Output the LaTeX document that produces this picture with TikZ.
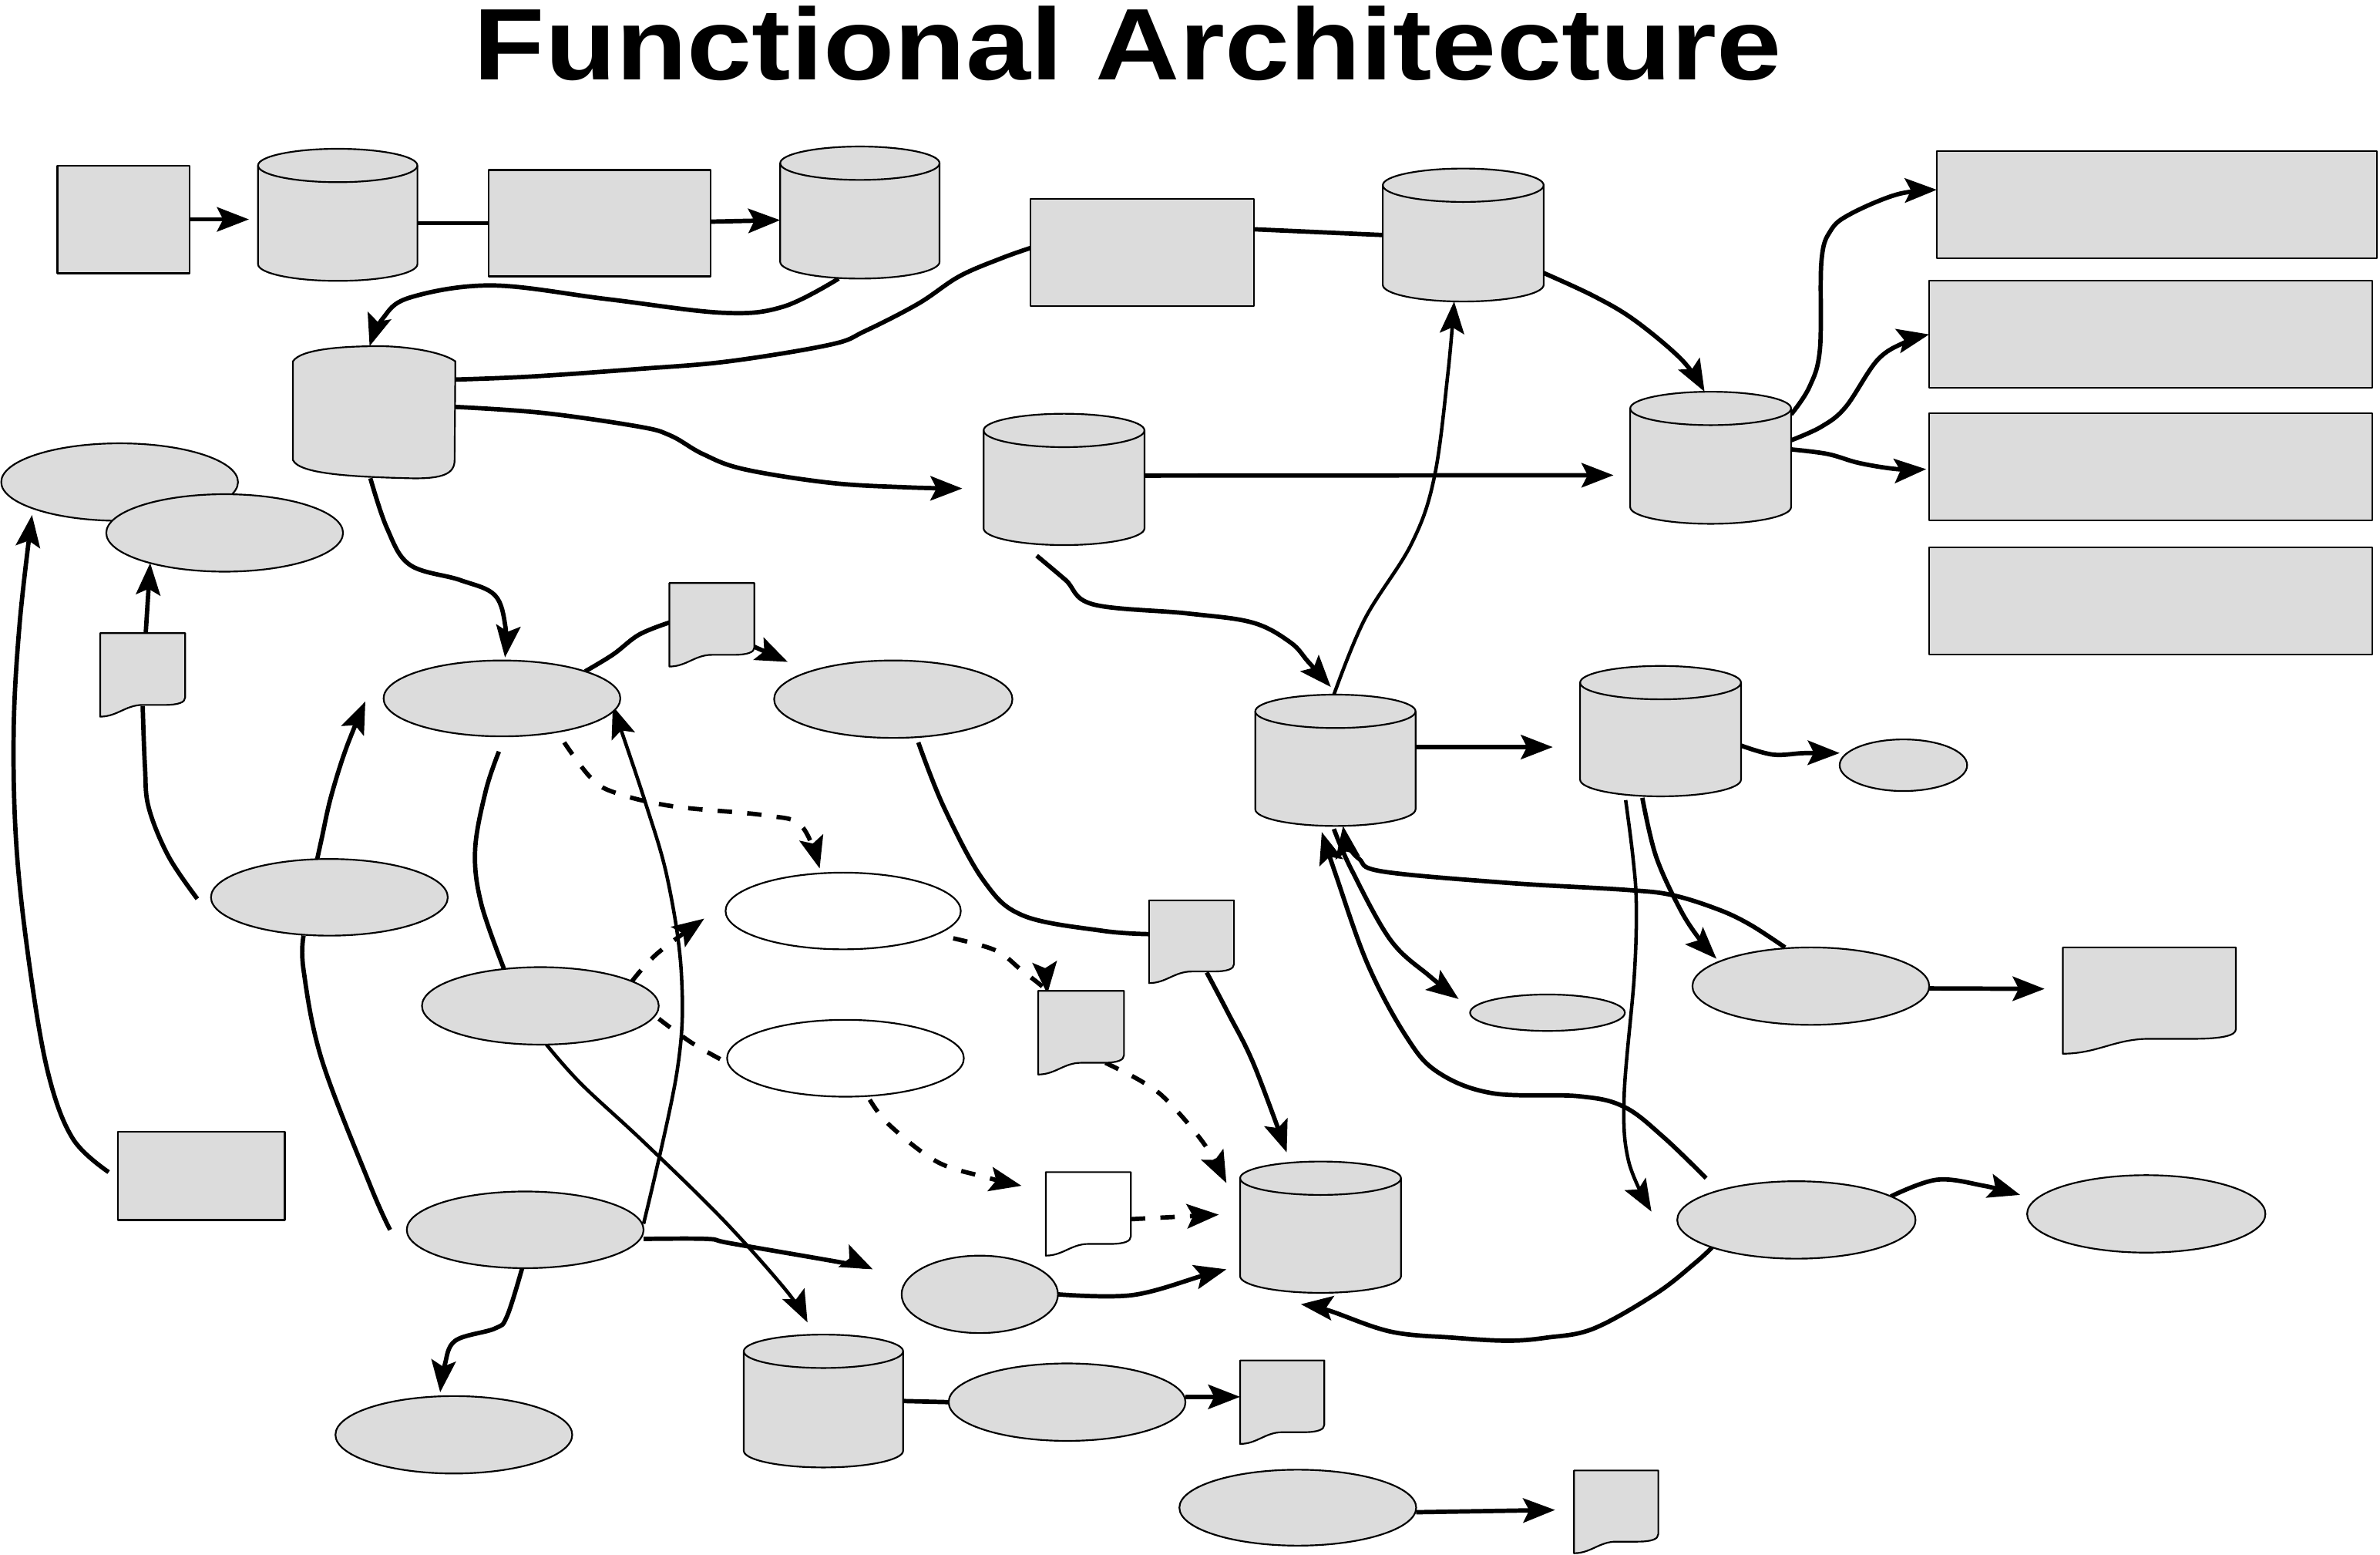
\documentclass[tikz,border=0pt]{standalone}
\usepackage{fontspec}
\setmainfont{Liberation Sans}
\usetikzlibrary{arrows.meta,shapes.geometric}
\definecolor{shapegray}{RGB}{220,220,220}
\pgfdeclarelayer{bg}
\pgfsetlayers{bg,main}
\tikzset{
  shp/.style={draw=black,line width=1.1pt,fill=shapegray,line join=round},
  hold/.style={rectangle,draw=none,fill=none,inner sep=0pt,outer sep=0pt},
  ell/.style={ellipse,shp,inner sep=0pt,outer sep=0pt},
  box/.style={rectangle,shp,inner sep=0pt,outer sep=0pt},
  con/.style={line width=2.9pt,line join=round},
  lite/.style={line width=2.3pt,line join=round},
  arrowed/.style={-{Stealth[length=21pt,width=16pt,inset=4pt]}},
  dsh/.style={dash pattern=on 9.5pt off 10pt},
}
% name, x0, ytop, x1, ybottom, ry
\newcommand\mkcyl[6]{%
  \node[hold, minimum width={(#4-#2)*1pt}, minimum height={(#5-#3)*1pt}] (#1) at ({(#2+#4)/2},{-(#3+#5)/2}) {};
  \draw[shp] (#2,{-#3-#6}) -- (#2,{-#5+#6}) arc[start angle=180,end angle=360,x radius={(#4-#2)*0.5pt},y radius={#6*1pt}] -- (#4,{-#3-#6}) arc[start angle=0,end angle=180,x radius={(#4-#2)*0.5pt},y radius={#6*1pt}] -- cycle;
  \draw[shp,fill=none] (#2,{-#3-#6}) arc[start angle=180,end angle=360,x radius={(#4-#2)*0.5pt},y radius={#6*1pt}];
}
% name, x0, ytop, x1, ybottomleft, fill
\newcommand\mkdoc[6]{%
  \node[hold, minimum width={(#4-#2)*1pt}, minimum height={(#5-#3)*1pt}] (#1) at ({(#2+#4)/2},{-(#3+#5)/2}) {};
  \draw[shp,fill=#6] (#2,-#5) .. controls ({#2+0.2*(#4-#2)},-#5) and ({#2+0.3*(#4-#2)},{-#5+0.14*(#5-#3)}) .. ({#2+0.5*(#4-#2)},{-#5+0.14*(#5-#3)}) -- ({#2+0.75*(#4-#2)},{-#5+0.14*(#5-#3)}) .. controls ({#2+0.92*(#4-#2)},{-#5+0.14*(#5-#3)}) and (#4,{-#5+0.17*(#5-#3)}) .. (#4,{-#5+0.23*(#5-#3)}) -- (#4,-#3) -- (#2,-#3) -- cycle;
}
\begin{document}
\begin{tikzpicture}[x=1pt,y=1pt]
\useasboundingbox (0,0) rectangle (1568,-1024);

% title
\node[anchor=base, inner sep=0pt, font=\fontsize{67}{80}\selectfont\bfseries] (title) at (743,-52.8) {\scalebox{1.146}[1]{Functional Architecture}};

% ---------- shapes ----------
\node[box,minimum width=87pt,minimum height=71pt] (R1) at (81.3,-144.5) {};
\mkcyl{C1}{170}{98}{275}{185}{11}
\node[box,minimum width=146pt,minimum height=70pt] (R2) at (395,-147) {};
\mkcyl{C2}{514}{96.5}{619}{183.5}{11}
\node[box,minimum width=147pt,minimum height=70.6pt] (R3) at (752.5,-166.3) {};
\mkcyl{C3}{911}{111}{1017}{198.6}{11}

\node[hold,minimum width=107pt,minimum height=87pt] (C4) at (246.5,-271.5) {};
\draw[shp] (193,-238) -- (193,-303) .. controls (197,-312) and (230,-314) .. (270,-315) .. controls (292,-315.5) and (299.5,-312) .. (299.5,-303) -- (300,-238) .. controls (290,-231) and (265,-228) .. (250,-228) .. controls (225,-228) and (198,-230) .. (193,-238) -- cycle;

\mkcyl{C5}{648}{272.5}{754}{359}{11}
\mkcyl{C6}{1074}{258}{1180}{345}{11}

\node[box,minimum width=290pt,minimum height=70.5pt] (RR1) at (1421,-134.75) {};
\node[box,minimum width=292pt,minimum height=70.5pt] (RR2) at (1417,-220.25) {};
\node[box,minimum width=292pt,minimum height=70.6pt] (RR3) at (1417,-307.3) {};
\node[box,minimum width=292pt,minimum height=70.5pt] (RR4) at (1417,-395.75) {};

\node[ell,minimum width=156pt,minimum height=51pt] (E1) at (78.8,-317.5) {};
\node[ell,minimum width=156pt,minimum height=51pt] (E2) at (148,-351) {};
\mkdoc{D1}{66}{417}{122}{472}{shapegray}
\node[ell,minimum width=156pt,minimum height=50pt] (E3) at (330.7,-460) {};
\mkdoc{D2}{441}{384}{497}{439}{shapegray}
\node[ell,minimum width=157pt,minimum height=51pt] (E4) at (588.5,-460.5) {};
\node[ell,minimum width=156pt,minimum height=50.5pt] (E5) at (217,-591) {};
\node[ell,fill=white,minimum width=155pt,minimum height=50.5pt] (E6) at (555.5,-600) {};
\node[ell,minimum width=156pt,minimum height=51pt] (E7) at (356,-662.5) {};
\node[ell,fill=white,minimum width=156pt,minimum height=50.6pt] (E8) at (557,-697) {};
\node[box,minimum width=110pt,minimum height=58pt] (R4) at (132.6,-774.5) {};
\node[ell,minimum width=156pt,minimum height=50.5pt] (E9) at (346,-810) {};
\node[ell,minimum width=156pt,minimum height=51pt] (E10) at (299,-945) {};
\mkdoc{D3}{757}{593}{813}{647.5}{shapegray}
\mkdoc{D4}{684}{652.6}{740.5}{707.7}{shapegray}
\mkdoc{D5}{689}{772}{745}{827}{white}
\node[ell,minimum width=103pt,minimum height=51pt] (E11) at (645.5,-852.5) {};
\mkcyl{C7}{817}{765}{923}{851.5}{11}
\mkcyl{C8}{490}{879}{595}{966.5}{11}
\node[ell,minimum width=156pt,minimum height=51pt] (E12) at (703,-923.5) {};
\mkdoc{D6}{817}{896}{872.5}{951}{shapegray}
\node[ell,minimum width=156pt,minimum height=50pt] (E13) at (855,-993) {};
\mkdoc{D7}{1037}{968.5}{1092.5}{1023}{shapegray}
\mkcyl{C9}{827}{457.5}{932.6}{544}{11}
\mkcyl{C10}{1041}{438.6}{1147}{524.5}{11}
\node[ell,minimum width=84pt,minimum height=34pt] (E14) at (1254,-504) {};
\node[ell,minimum width=102pt,minimum height=24pt] (E15) at (1019.5,-667) {};
\node[ell,minimum width=156pt,minimum height=51pt] (E16) at (1193,-649.5) {};
\mkdoc{D8}{1359}{624}{1473}{694}{shapegray}
\node[ell,minimum width=157pt,minimum height=51pt] (E17) at (1183.5,-803.5) {};
\node[ell,minimum width=157pt,minimum height=51pt] (E18) at (1414,-799.5) {};

% ---------- connectors ----------
\begin{pgfonlayer}{bg}
\draw[con,arrowed] (R1.east) -- ([xshift=-6pt,yshift=-3pt]C1.west);
\draw[con] ([yshift=-5.5pt]C1.east) -- (R2.west);
\draw[con,arrowed] ([yshift=1pt]R2.east) -- ([yshift=-5pt]C2.west);
\draw[con,arrowed] plot[smooth,tension=0.6] coordinates {([xshift=-14pt]C2.south) (516,-202) (476,-206) (400,-197) (324,-188) (270,-196) (252,-210) ([xshift=-3pt]C4.north)};
\draw[con] plot[smooth,tension=0.6] coordinates {([yshift=3pt]R3.west) (660,-170) (632,-182) (605,-200) (570,-218) (547,-227) (480,-238) (421,-243) (350,-248) ([yshift=21.5pt]C4.east)};
\draw[con] ([yshift=15.3pt]R3.east) -- (C3.west);
\draw[con,arrowed] plot[smooth,tension=0.6] coordinates {([yshift=3.5pt]C4.east) (358,-272) (421,-281) (442,-287) (463,-299) (490,-309) (547,-318) (598,-321) ([xshift=-14pt,yshift=-6pt]C5.west)};
\draw[con,arrowed] ([yshift=2.5pt]C5.east) -- ([xshift=-11pt,yshift=-11.5pt]C6.west);
\draw[con,arrowed] plot[smooth,tension=0.6] coordinates {([yshift=-25pt]C3.east) (1050,-195) (1077,-211) (1108,-237) ([xshift=-4pt]C6.north)};
\draw[con,arrowed] plot[smooth,tension=0.6] coordinates {([yshift=28.5pt]C6.east) (1192,-255) (1199,-230) (1200,-172) (1206,-152) (1219,-141) (1250,-128) ([yshift=9.75pt]RR1.west)};
\draw[con,arrowed] plot[smooth,tension=0.6] coordinates {([yshift=11.5pt]C6.east) (1200,-281) (1216,-268) (1237,-237) (1256,-225) (RR2.west)};
\draw[con,arrowed] plot[smooth,tension=0.6] coordinates {([yshift=5.5pt]C6.east) (1204,-299) (1225,-305) (1250,-309) ([xshift=-2pt,yshift=-1.7pt]RR3.west)};
\draw[con,arrowed] plot[smooth,tension=0.6] coordinates {([xshift=-18pt,yshift=-7pt]C5.south) (702,-382) (720,-398) (782,-404) (825,-410) (850,-423) (862,-436) ([xshift=-3pt,yshift=5pt]C9.north)};
\draw[lite,arrowed] plot[smooth,tension=0.6] coordinates {([xshift=-1pt]C9.north) (899,-408) (930,-358) (945,-314) (954,-245) ([xshift=-6pt]C3.south)};

\draw[con,arrowed] plot[smooth,tension=0.6] coordinates {([xshift=-6pt,yshift=2.5pt]R4.west) (48,-750) (32,-708) (20,-640) (11,-560) (9,-482) (13,-410) ([xshift=-57.7pt,yshift=-21.7pt]E1.center)};
\draw[con] plot[smooth,tension=0.6] coordinates {([xshift=-9pt,yshift=-1pt]E5.west) (111,-564) (98,-532) (95.5,-505) ([yshift=7pt]D1.south)};
\draw[con,arrowed] ([xshift=2pt]D1.north) -- (E2.202);
\draw[con,arrowed] plot[smooth,tension=0.6] coordinates {([xshift=-8pt]E5.north) (212,-552) (218,-525) (228,-493) ([xshift=-12pt,yshift=-2pt]E3.west)};
\draw[con] plot[smooth,tension=0.6] coordinates {([xshift=-17pt]E5.south) (200,-639) (212,-698) (244,-781) ([xshift=-11pt]E9.west)};
\draw[con,arrowed] plot[smooth,tension=0.6] coordinates {([xshift=-2.5pt]C4.south) (255,-348) (270,-372) (303,-382) (326,-392) (333,-413) ([xshift=2pt,yshift=2pt]E3.north)};
\draw[con] plot[smooth,tension=0.6] coordinates {(E3.18) (404,-431) (421,-418) ([yshift=1.5pt]D2.west)};
\draw[con,arrowed] ([yshift=13pt]D2.south east) -- ([xshift=-14pt,yshift=6.5pt]E4.north west);
\draw[con] plot[smooth,tension=0.6] coordinates {([xshift=-2pt,yshift=-10pt]E3.south) (320,-521) (313,-560) (317,-595) ([xshift=-24pt,yshift=-1pt]E7.north)};
\draw[lite,arrowed] plot[smooth,tension=0.6] coordinates {([yshift=4pt]E9.east) (446,-706) (449,-643) (440,-580) (425,-528) ([xshift=-5pt,yshift=-5pt]E3.east)};
\draw[con,dsh,arrowed] plot[smooth,tension=0.6] coordinates {([xshift=41pt,yshift=-4pt]E3.south) (389,-512) (405,-522) (443,-531) (504,-537) (528,-544) ([xshift=-15.5pt,yshift=2.75pt]E6.north)};
\draw[con,dsh,arrowed] plot[smooth,tension=0.6] coordinates {(E7.15) (433,-628) ([xshift=-14pt,yshift=-5pt]E6.west)};
\draw[con,dsh] plot[smooth,tension=0.6] coordinates {([yshift=-8.5pt]E7.east) (456,-687) ([yshift=-3pt]E8.west)};
\draw[lite,arrowed] plot[smooth,tension=0.6] coordinates {([xshift=4pt]E7.south) (383,-714) (425,-753) (477,-804) (518,-850) ([xshift=-10.5pt,yshift=8pt]C8.north)};
\draw[con,arrowed] plot[smooth,tension=0.6] coordinates {([yshift=-6pt]E9.east) (466,-816) (482,-819) (557,-832) ([xshift=-19pt,yshift=16.5pt]E11.west)};
\draw[con,arrowed] plot[smooth,tension=0.6] coordinates {([xshift=-2pt]E9.south) (334,-867) (326,-875) (300,-883) (293,-899) ([xshift=-9pt,yshift=2.5pt]E10.north)};
\draw[con] plot[smooth,tension=0.6] coordinates {([xshift=16.5pt,yshift=-3pt]E4.south) (622,-532) (648,-580) (674,-603) (726,-613) ([yshift=5pt]D3.west)};
\draw[con,arrowed] plot[smooth,tension=0.6] coordinates {([xshift=10pt,yshift=7pt]D3.south) (809,-667) (826,-701) ([xshift=-22.3pt,yshift=6pt]C7.north)};
\draw[con,dsh,arrowed] plot[smooth,tension=0.6] coordinates {([xshift=72.5pt,yshift=-18pt]E6.center) (656,-626) (673,-639) (687,-650) ([xshift=6pt,yshift=-2pt]D4.north west)};
\draw[con,dsh,arrowed] plot[smooth,tension=0.6] coordinates {([xshift=16pt,yshift=7.7pt]D4.south) (751.7,-712) (768.6,-724.5) (793,-753) ([xshift=-9pt,yshift=29pt]C7.west)};
\draw[con,dsh,arrowed] plot[smooth,tension=0.6] coordinates {([xshift=16pt,yshift=-2pt]E8.south) (586,-741) (617,-765) (648,-775) ([xshift=-16pt,yshift=18.5pt]D5.west)};
\draw[con,dsh,arrowed] ([yshift=-3.5pt]D5.east) -- ([xshift=-14pt,yshift=8.25pt]C7.west);
\draw[con,arrowed] plot[smooth,tension=0.6] coordinates {(E11.east) (746,-853) (793,-840) ([xshift=-9pt,yshift=-27.75pt]C7.west)};
\draw[con] (C8.east) -- (E12.west);
\draw[con,arrowed] ([yshift=3.5pt]E12.east) -- ([yshift=3.5pt]D6.west);
\draw[con,arrowed] ([yshift=-3pt]E13.east) -- ([xshift=-12.5pt,yshift=1.25pt]D7.west);

\draw[con,arrowed] ([yshift=8.75pt]C9.east) -- ([xshift=-18pt,yshift=-10.5pt]C10.west);
\draw[con,arrowed] plot[smooth,tension=0.6] coordinates {([yshift=-9.5pt]C10.east) (1168,-497) (1189,-496) ([yshift=8pt]E14.west)};
\draw[con,arrowed] plot[smooth,tension=0.6] coordinates {([xshift=-1pt,yshift=-2pt]C9.south) (890,-572) (916,-619) (942,-643) ([xshift=-7.5pt,yshift=9pt]E15.west)};
\draw[con,arrowed] plot[smooth,tension=0.6] coordinates {([xshift=-17pt]E16.north) (1153,-609) (1132,-599) (1101.5,-589.5) (1070,-586) (993.5,-581.5) (911,-574) (895.4,-565.7) (887.8,-556) ([xshift=5pt]C9.south)};
\draw[con,arrowed] plot[smooth,tension=0.6] coordinates {([xshift=-59.5pt,yshift=2pt]E17.north) (1096,-749) (1070,-729) (1040,-722) (983,-720) (947,-706) (926,-682) (901,-635) (880,-576) ([xshift=-9pt,yshift=-4pt]C9.south)};
\draw[lite,arrowed] plot[smooth,tension=0.6] coordinates {([xshift=-23pt,yshift=-2.5pt]C10.south) (1075.7,-563.6) (1078,-595) (1076.7,-642.7) (1070,-722) (1073,-765) ([xshift=-17pt,yshift=5.5pt]E17.west)};
\draw[con,arrowed] plot[smooth,tension=0.6] coordinates {([xshift=-12pt,yshift=-1pt]C10.south) (1091,-564) (1107,-599) (1120,-619) ([xshift=-7pt]E16.north west)};
\draw[con,arrowed] ([yshift=-1.5pt]E16.east) -- ([xshift=-12pt,yshift=7.7pt]D8.west);
\draw[con,arrowed] plot[smooth,tension=0.6] coordinates {(E17.14) (1276,-777) (1307,-781) ([xshift=-4.6pt,yshift=12.5pt]E18.west)};
\draw[con,arrowed] plot[smooth,tension=0.6] coordinates {(E17.198) (1116.8,-831.8) (1091,-852) (1050,-875) (1019,-881) (993,-883) (957,-881) (916,-877) (875,-863) ([xshift=-13pt,yshift=-7.5pt]C7.south)};
\end{pgfonlayer}
\end{tikzpicture}
\end{document}
